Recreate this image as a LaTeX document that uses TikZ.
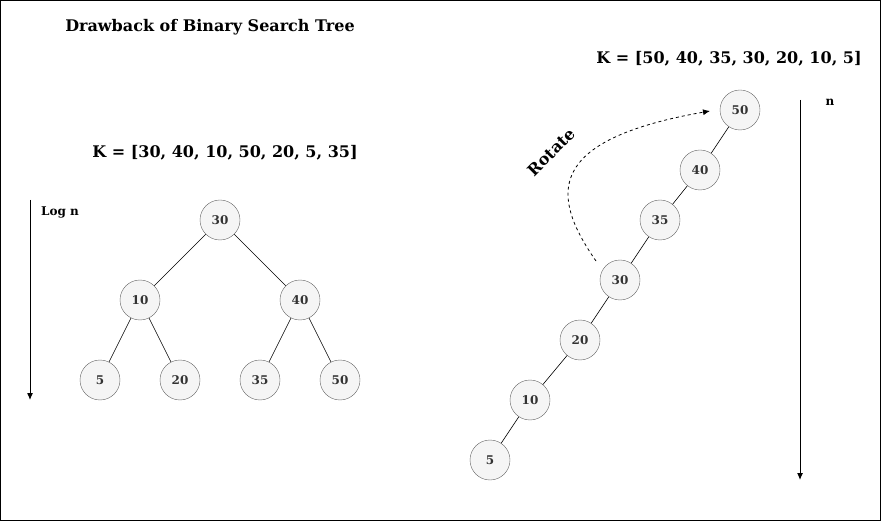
\documentclass[tikz,border=0pt]{standalone}
\usepackage{fontspec}
\setmainfont{DejaVu Serif}
\usetikzlibrary{arrows.meta}
\definecolor{nodefill}{HTML}{F5F5F5}
\definecolor{nodeline}{HTML}{666666}
\definecolor{nodetext}{HTML}{333333}
\begin{document}
\begin{tikzpicture}[x=1pt,y=-1pt,
  key/.style={circle,draw=nodeline,fill=nodefill,text=nodetext,minimum size=40pt,inner sep=0pt,font=\fontsize{12}{14}\selectfont\bfseries},
  edge/.style={draw=black,line width=0.6pt},
  axis/.style={draw=black,line width=1pt,-{Latex[length=7pt,width=6pt]}},
  lbl/.style={font=\fontsize{16}{19}\selectfont\bfseries,inner sep=0pt},
  small/.style={font=\fontsize{12}{14}\selectfont\bfseries,inner sep=0pt}]
\useasboundingbox (0,0) rectangle (881,521);
\draw[line width=1pt] (0.5,0.5) rectangle (880.5,520.5);
\node[lbl] (title) at (210,27) {Drawback of Binary Search Tree};
\node[lbl] (kl) at (225,153) {K = [30, 40, 10, 50, 20, 5, 35]};
\node[lbl] (kr) at (729,59) {K = [50, 40, 35, 30, 20, 10, 5]};
% left tree
\node[key] (a30) at (220,220) {30};
\node[key] (a10) at (140,300) {10};
\node[key] (a40) at (300,300) {40};
\node[key] (a5) at (100,380) {5};
\node[key] (a20) at (180,380) {20};
\node[key] (a35) at (260,380) {35};
\node[key] (a50) at (340,380) {50};
\draw[edge] (a30) -- (a10);
\draw[edge] (a30) -- (a40);
\draw[edge] (a10) -- (a5);
\draw[edge] (a10) -- (a20);
\draw[edge] (a40) -- (a35);
\draw[edge] (a40) -- (a50);
% right chain
\node[key] (b50) at (740,110) {50};
\node[key] (b40) at (700,170) {40};
\node[key] (b35) at (660,220) {35};
\node[key] (b30) at (620,280) {30};
\node[key] (b20) at (580,340) {20};
\node[key] (b10) at (530,400) {10};
\node[key] (b5) at (490,460) {5};
\draw[edge] (b50) -- (b40);
\draw[edge] (b40) -- (b35);
\draw[edge] (b35) -- (b30);
\draw[edge] (b30) -- (b20);
\draw[edge] (b20) -- (b10);
\draw[edge] (b10) -- (b5);
% axes
\coordinate (l1) at (30,200);
\coordinate (l2) at (30,400);
\draw[axis] (l1) -- (l2);
\node[small,anchor=west] (logn) at (41,212) {Log n};
\coordinate (r1) at (800,100);
\coordinate (r2) at (800,480);
\draw[axis] (r1) -- (r2);
\node[small] (nn) at (830,102) {n};
% rotate
\node[lbl,rotate=45] (rot) at (551,152) {Rotate};
\coordinate (c1) at (596,261);
\coordinate (c2) at (710,111);
\draw[dashed,line width=0.8pt,-{Latex[length=7pt,width=6pt]}] (c1) .. controls (550,195) and (545,140) .. (c2);
\end{tikzpicture}
\end{document}
